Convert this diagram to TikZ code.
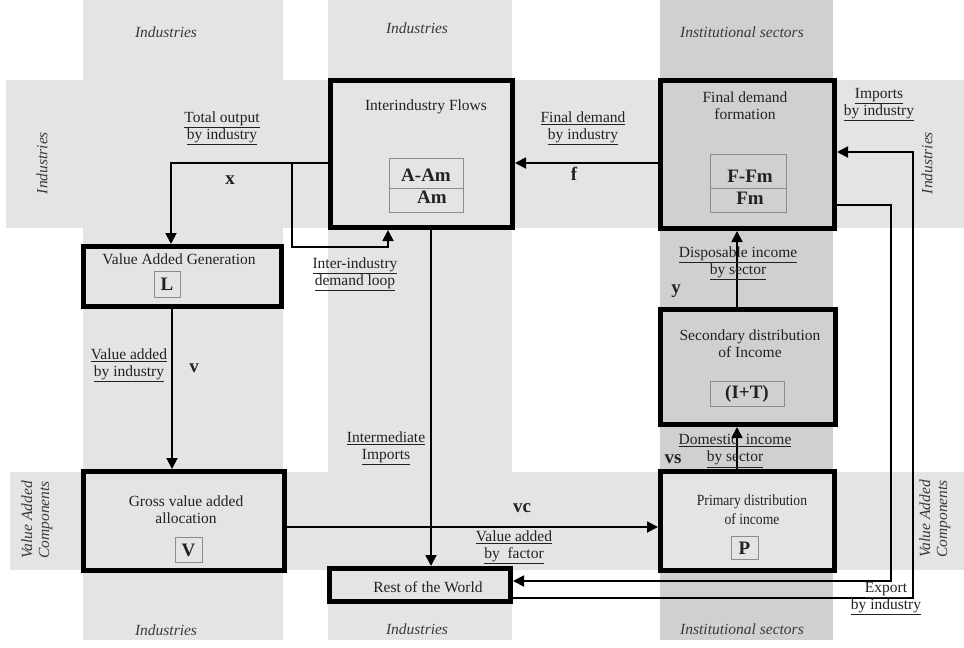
\documentclass[tikz,border=0pt]{standalone}
\usepackage{fontspec}
\setmainfont{Liberation Serif}
\newfontfamily\condserif[FakeStretch=0.88]{Liberation Serif}
\usetikzlibrary{arrows.meta}
\definecolor{bandlight}{HTML}{E4E4E4}
\definecolor{banddark}{HTML}{D0D0D0}
\definecolor{innerline}{HTML}{8C8C8C}
\definecolor{txt}{HTML}{222222}
\definecolor{bandtxt}{HTML}{3A3A3A}
\begin{document}
\begin{tikzpicture}[x=1pt,y=-1pt,
  font=\fontsize{15.5}{17}\selectfont, text=txt,
  bigbox/.style={draw=black, line width=5pt, inner sep=0pt},
  litebox/.style={bigbox, fill=bandlight},
  darkbox/.style={bigbox, fill=banddark},
  innerbox/.style={draw=innerline, line width=0.9pt, inner sep=0pt},
  lbl/.style={align=center, inner sep=0pt},
  var/.style={inner sep=0pt, font=\fontsize{19}{21}\selectfont\bfseries},
  bandlbl/.style={inner sep=0pt, align=center, text=bandtxt, font=\fontsize{15.5}{17}\selectfont\itshape},
  conn/.style={draw=black, line width=1.8pt, -{Triangle[length=11pt,width=11pt]}},
  plain/.style={draw=black, line width=1.8pt}
]
\useasboundingbox (0,0) rectangle (964,648);
% background bands
\fill[bandlight] (83,0) rectangle (283,640);
\fill[bandlight] (328,0) rectangle (512,640);
\fill[bandlight] (6,80) rectangle (964,228);
\fill[bandlight] (10,472) rectangle (964,570);
\fill[banddark] (660,0) rectangle (833,640);
\fill[bandlight] (833,80) rectangle (964,228);
\fill[bandlight] (833,472) rectangle (964,570);

% band labels
\node[bandlbl] (ct1) at (166,32) {Industries};
\node[bandlbl] (ct2) at (417,28) {Industries};
\node[bandlbl] (ct3) at (742,32) {Institutional sectors};
\node[bandlbl] (cb1) at (166,630) {Industries};
\node[bandlbl] (cb2) at (417,629) {Industries};
\node[bandlbl] (cb3) at (742,629) {Institutional sectors};
\node[bandlbl, rotate=90] (rl1) at (42,163) {Industries};
\node[bandlbl, rotate=90] (rr1) at (927,163) {Industries};
\node[bandlbl, rotate=90] (rl2) at (37,520) {Value Added\\Components};
\node[bandlbl, rotate=90] (rr2) at (935,519) {Value Added\\Components};

% main boxes
\node[litebox, minimum width=182pt, minimum height=147pt] (ii) at (421.5,154) {};
\node[darkbox, minimum width=174pt, minimum height=148pt] (fd) at (747.5,154.5) {};
\node[litebox, minimum width=198pt, minimum height=60pt] (vag) at (182.5,276.5) {};
\node[litebox, minimum width=201pt, minimum height=99pt] (gva) at (184,521) {};
\node[litebox, minimum width=174pt, minimum height=99pt] (pd) at (747.5,521) {};
\node[darkbox, minimum width=175pt, minimum height=115pt] (sd) at (748,367) {};
\node[litebox, minimum width=181pt, minimum height=33pt] (row) at (420,585) {};

% titles
\node[lbl] (iit) at (426,107) {Interindustry Flows};
\node[lbl] (fdt) at (745,105.5) {Final demand\\formation};
\node[lbl] (vagt) at (179,259) {Value Added Generation};
\node[lbl] (gvat) at (186,509.5) {Gross value added\\allocation};
\node[lbl, font=\condserif\fontsize{15.5}{19}\selectfont] (pdt) at (752,509.5) {Primary distribution\\of income};
\node[lbl] (sdt) at (750,343.5) {Secondary distribution\\of Income};
\node[lbl] (rowt) at (428,587) {Rest of the World};

% inner boxes
\node[innerbox, minimum width=74pt, minimum height=30pt] (iia) at (426,173) {};
\node[innerbox, minimum width=74pt, minimum height=24pt] (iib) at (426,200) {};
\node[var] (iiat) at (426,175) {A-Am};
\node[var] (iibt) at (432,197) {Am};
\node[innerbox, minimum width=76pt, minimum height=34pt] (fda) at (748,171) {};
\node[innerbox, minimum width=76pt, minimum height=24pt] (fdb) at (748,200) {};
\node[var] (fdat) at (750,176) {F-Fm};
\node[var] (fdbt) at (750,198) {Fm};
\node[innerbox, minimum width=26pt, minimum height=26pt] (lb) at (167,284) {};
\node[var] (lbt) at (167,284.5) {L};
\node[innerbox, minimum width=27pt, minimum height=25pt] (vb) at (188.5,549.5) {};
\node[var] (vbt) at (188.5,550) {V};
\node[innerbox, minimum width=27pt, minimum height=23pt] (pb) at (744.5,547.5) {};
\node[var] (pbt) at (744.5,548) {P};
\node[innerbox, minimum width=74pt, minimum height=25pt] (itb) at (747,393.5) {};
\node[var] (itbt) at (747,394) {(I+T)};

% connectors
\coordinate (split) at (292,163);
\draw[conn] (fd.west |- 0,163) -- (ii.east |- 0,163);
\draw[conn] (ii.west |- 0,163) -- (171,163) -- (vag.north -| 171,0);
\draw[conn] (split) -- (292,247) -- (388,247) -- (ii.south -| 388,0);
\draw[conn] (vag.south -| 172,0) -- (gva.north -| 172,0);
\draw[conn] (gva.east |- 0,527) -- (pd.west |- 0,527);
\draw[conn] (ii.south -| 431,0) -- (row.north -| 431,0);
\draw[conn] (pd.north -| 737,0) -- (sd.south -| 737,0);
\draw[conn] (sd.north -| 737,0) -- (fd.south -| 737,0);
\draw[conn] (fd.east |- 0,205) -- (891,205) -- (891,581) -- (row.east |- 0,581);
\draw[conn] (row.east |- 0,598) -- (913,598) -- (913,152) -- (fd.east |- 0,152);

% underlined labels
\node[lbl] (l1) at (222,128) {\underline{Total output}\\\underline{by industry}};
\node[lbl] (l2) at (583,128) {\underline{Final demand}\\\underline{by industry}};
\node[lbl] (l3) at (879,104.5) {\underline{Imports}\\\underline{by industry}};
\node[lbl] (l4) at (355,274.5) {\underline{Inter-industry}\\\underline{demand loop}};
\node[lbl] (l5) at (129,365) {\underline{Value added}\\\underline{by industry}};
\node[lbl] (l6) at (386,448) {\underline{Intermediate}\\\underline{Imports}};
\node[lbl] (l7) at (738,263.5) {\underline{Disposable income}\\\underline{by sector}};
\node[lbl] (l8) at (735,451) {\underline{Domestic\ \ income}\\\underline{by sector}};
\node[lbl] (l9) at (514,547) {\underline{Value added}\\\underline{by\ \ factor}};
\node[lbl] (l10) at (886,599) {\underline{Export}\\\underline{by industry}};

% variable labels
\node[var] (vx) at (230,180) {x};
\node[var] (vf) at (574,174) {f};
\node[var] (vv) at (194,368) {v};
\node[var] (vvc) at (522,508) {vc};
\node[var] (vvs) at (673,459) {vs};
\node[var] (vy) at (676,291) {y};
\end{tikzpicture}
\end{document}
